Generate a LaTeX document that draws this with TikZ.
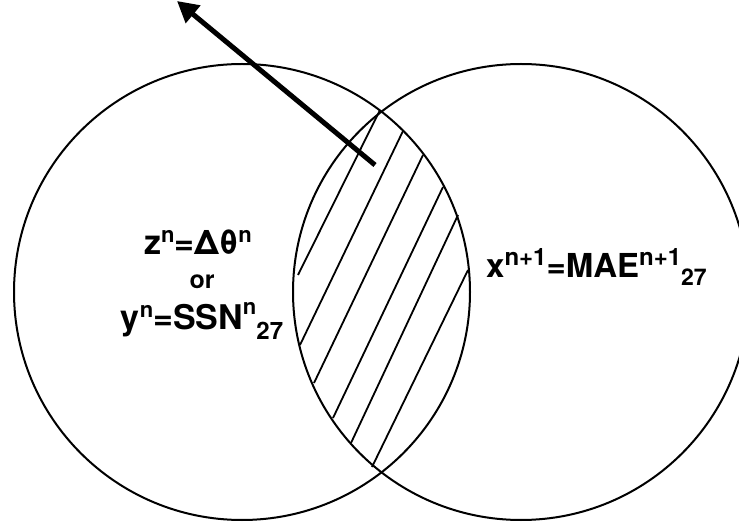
\documentclass[tikz,border=0pt]{standalone}
\usepackage{fontspec}
\setmainfont{TeX Gyre Heros}
\usetikzlibrary{arrows.meta}
\newcommand\rsup[3]{\raisebox{#2}{\fontsize{#1}{#1}\selectfont\bfseries #3}}
\begin{document}
\begin{tikzpicture}[x=1pt,y=-1pt,
  ring/.style={draw=black,line width=2pt},
  hatch/.style={draw=black,line width=1.8pt},
  bigarrow/.style={draw=black,line width=5pt,-{Triangle[length=21pt,width=22pt]}},
  lbl/.style={inner sep=0pt,anchor=base,font=\bfseries}]
\useasboundingbox (0,0) rectangle (739,526);
\clip (0,0) rectangle (739,526);
% circles
\draw[ring] (242,292) circle[radius=228];
\draw[ring] (521,292) circle[radius=228];
% hatching in the overlap
\draw[hatch] (298,275) -- (380,110);
\draw[hatch] (300,345) -- (403,131);
\draw[hatch] (314,383) -- (423,155);
\draw[hatch] (333,418) -- (443,187);
\draw[hatch] (351,443) -- (458,215);
\draw[hatch] (372,467) -- (468,270);
% arrow
\coordinate (tail) at (375,165);
\coordinate (tip) at (177,1);
\draw[bigarrow] (tail) -- (tip);
% labels
\node[lbl] (zl) at (198,255) {\fontsize{34}{34}\selectfont\bfseries z\rsup{22}{12pt}{n}=Δθ\rsup{22}{12pt}{n}};
\node[lbl] (orl) at (202,289) {\fontsize{25}{25}\selectfont\bfseries or};
\node[lbl] (yl) at (202,330) {\fontsize{34}{34}\selectfont\bfseries y\rsup{22}{12pt}{n}=SSN\rsup{22}{15pt}{n}\rsup{24}{-10pt}{27}};
\node[lbl,anchor=base west] (xl) at (486,278) {\fontsize{33}{33}\selectfont\bfseries x\rsup{24}{12pt}{n+1}=MAE\rsup{24}{12pt}{n+1}\rsup{23}{-8pt}{27}};
\end{tikzpicture}
\end{document}
